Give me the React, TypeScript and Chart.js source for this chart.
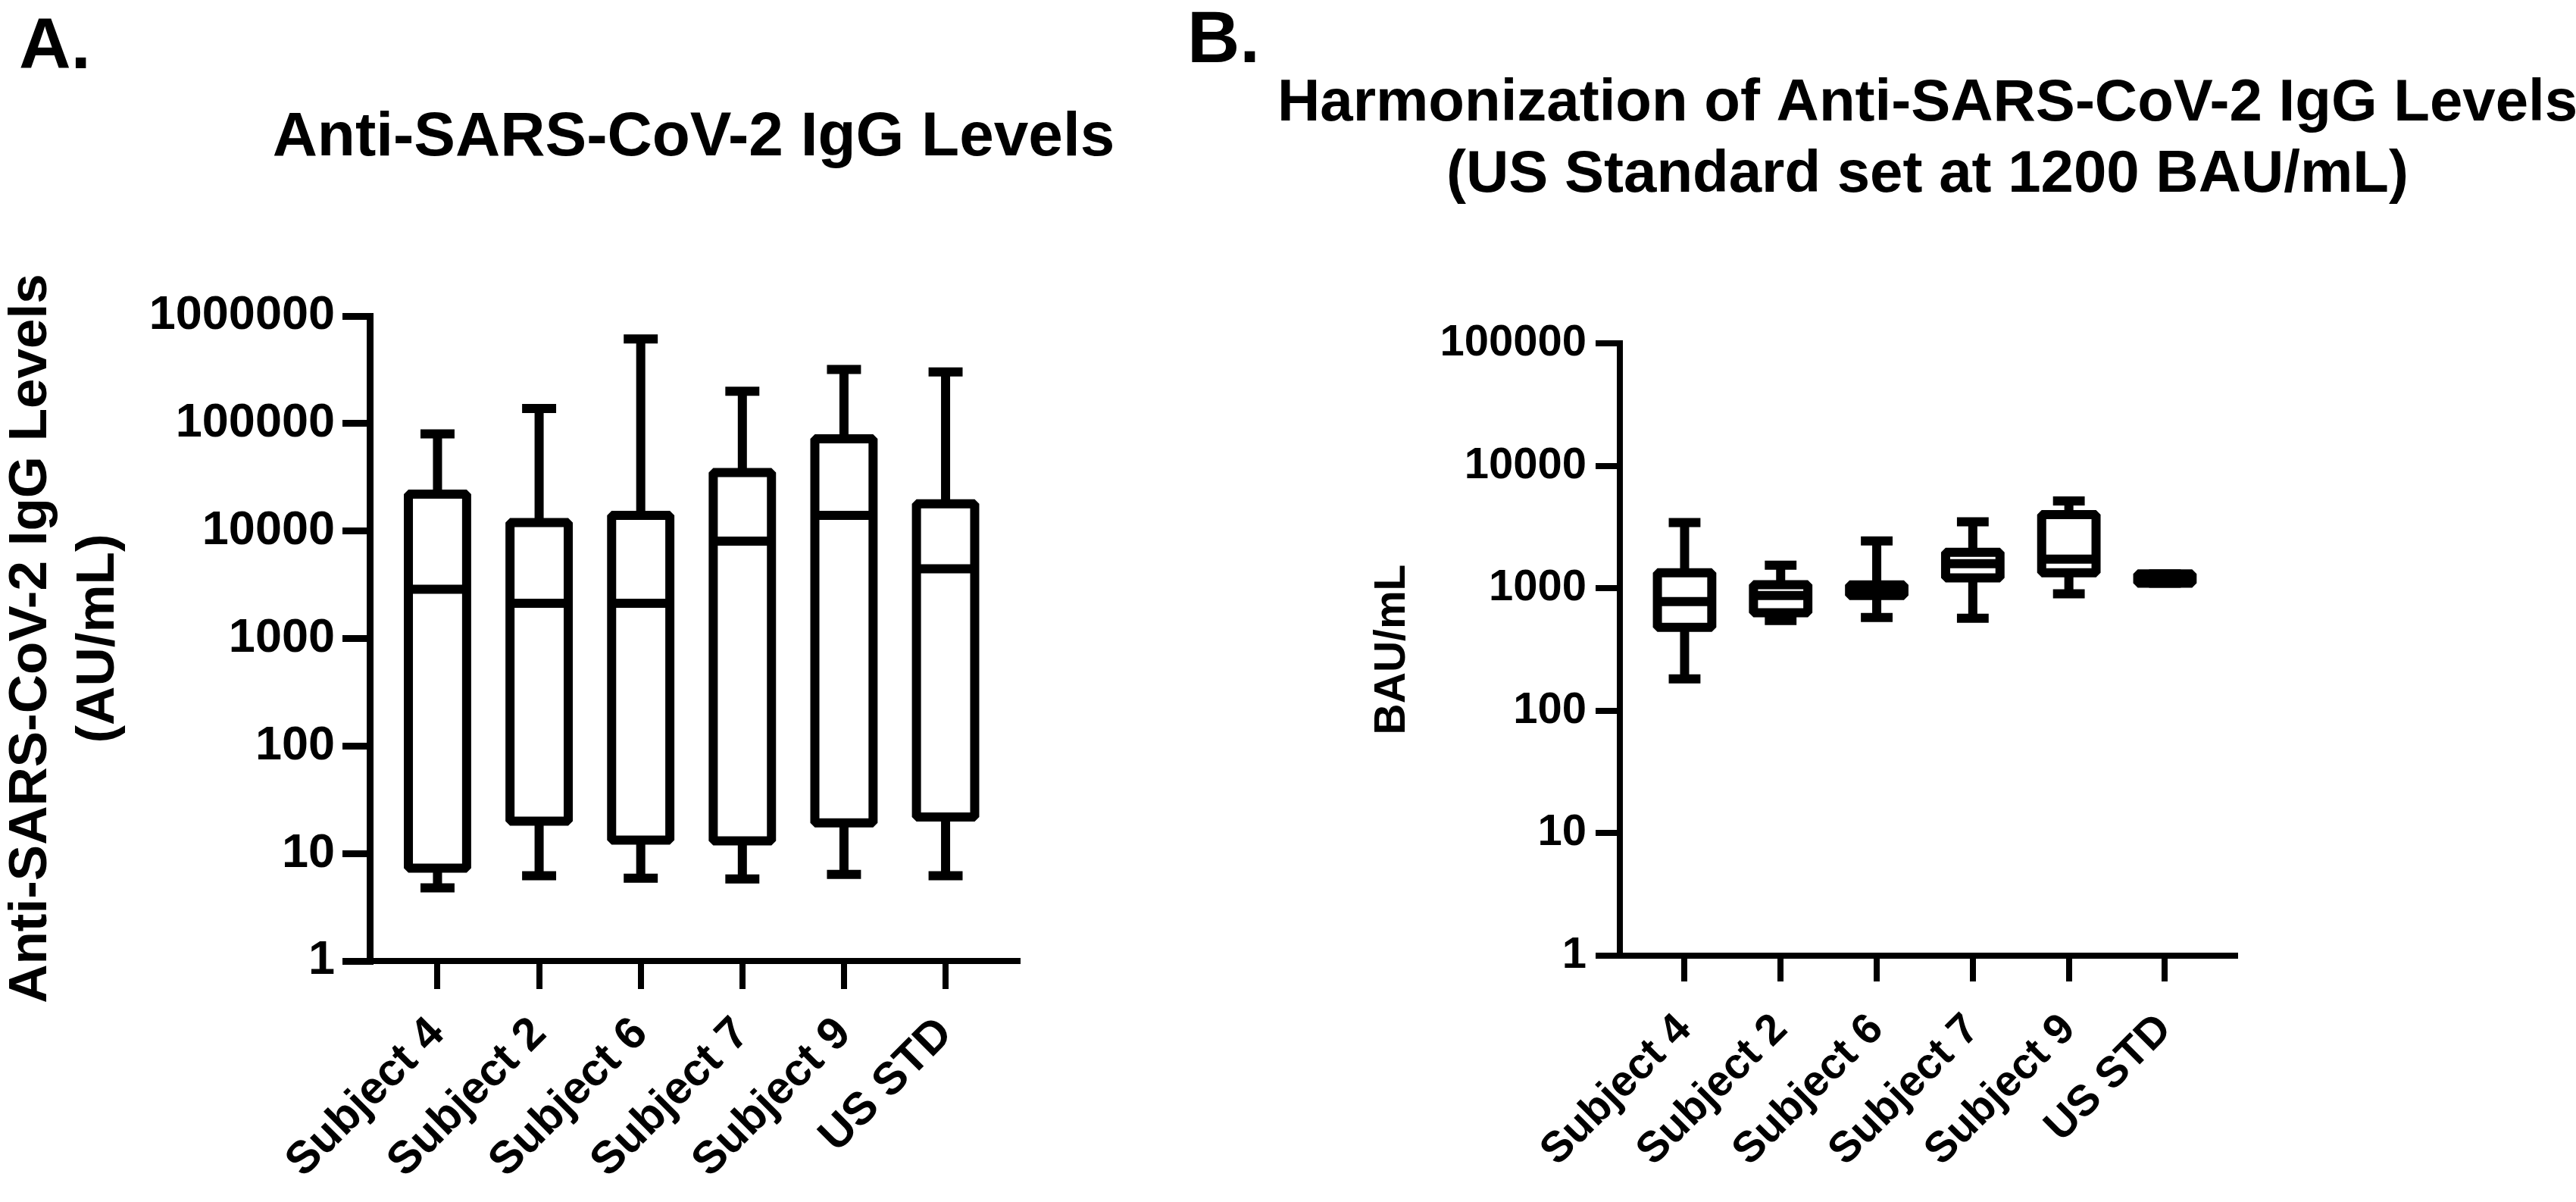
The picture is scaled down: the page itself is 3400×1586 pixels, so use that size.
import React, { useEffect, useRef } from 'react';
import { Chart, registerables } from 'chart.js';

Chart.register(...registerables);

const FONT = "'Liberation Sans', Arial, Helvetica, sans-serif";

// ---------- Panel A data (AU/mL) ----------
const categoriesA = ['Subject 4', 'Subject 2', 'Subject 6', 'Subject 7', 'Subject 9', 'US STD'];
const minA = [4.8, 6.2, 5.9, 5.8, 6.4, 6.2];
const q1A = [7.3, 20, 13.3, 13.1, 19.3, 21.9];
const medianA = [2870, 2130, 2130, 8070, 14000, 4450];
const q3A = [22000, 12000, 14000, 35000, 72000, 17900];
const maxA = [80000, 138000, 613000, 200000, 319000, 302000];
const yTicksA = [1, 10, 100, 1000, 10000, 100000, 1000000];
const yTickLabelsA = ['1', '10', '100', '1000', '10000', '100000', '1000000'];

// ---------- Panel B data (BAU/mL) ----------
const categoriesB = ['Subject 4', 'Subject 2', 'Subject 6', 'Subject 7', 'Subject 9', 'US STD'];
const minB = [182, 546, 578, 569, 901, 1100];
const q1B = [480, 631, 873, 1216, 1340, 1100];
const medianB = [780, 873, 966, 1589, 1731, 1200];
const q3B = [1340, 1070, 1067, 1968, 3988, 1310];
const maxB = [3434, 1545, 2438, 3483, 5166, 1310];
const yTicksB = [1, 10, 100, 1000, 10000, 100000];
const yTickLabelsB = ['1', '10', '100', '1000', '10000', '100000'];

const titleA = ['Anti-SARS-CoV-2 IgG Levels'];
const titleB = ['Harmonization of Anti-SARS-CoV-2 IgG Levels', '(US Standard set at 1200 BAU/mL)'];
const yTitleA = ['Anti-SARS-CoV-2 IgG Levels', '(AU/mL)'];
const yTitleB = ['BAU/mL'];

// Box-and-whisker drawing through the chart's own scales
const boxWhiskerPlugin = {
  id: 'boxWhisker',
  afterDatasetsDraw(chart: any, _args: any, o: any) {
    const { ctx } = chart;
    const xs = chart.scales.x;
    const ys = chart.scales.y;
    const step = xs.getPixelForValue(1) - xs.getPixelForValue(0);
    const half = (step * o.boxRatio) / 2;
    const capHalf = (step * o.capRatio) / 2;
    ctx.save();
    ctx.strokeStyle = '#000';
    ctx.lineWidth = o.lineWidth;
    ctx.lineCap = 'butt';
    o.min.forEach((_: number, i: number) => {
      const cx = xs.getPixelForValue(i);
      const pMin = ys.getPixelForValue(o.min[i]);
      const pQ1 = ys.getPixelForValue(o.q1[i]);
      const pMed = ys.getPixelForValue(o.median[i]);
      const pQ3 = ys.getPixelForValue(o.q3[i]);
      const pMax = ys.getPixelForValue(o.max[i]);
      ctx.lineJoin = 'miter';
      ctx.beginPath();
      ctx.moveTo(cx, pQ3);
      ctx.lineTo(cx, pMax);
      ctx.moveTo(cx, pQ1);
      ctx.lineTo(cx, pMin);
      ctx.moveTo(cx - capHalf, pMax);
      ctx.lineTo(cx + capHalf, pMax);
      ctx.moveTo(cx - capHalf, pMin);
      ctx.lineTo(cx + capHalf, pMin);
      ctx.stroke();
      ctx.lineJoin = 'bevel';
      ctx.fillStyle = '#fff';
      ctx.beginPath();
      ctx.rect(cx - half, pQ3, 2 * half, pQ1 - pQ3);
      ctx.fill();
      ctx.stroke();
      ctx.beginPath();
      ctx.moveTo(cx - half, pMed);
      ctx.lineTo(cx + half, pMed);
      ctx.stroke();
    });
    ctx.restore();
  },
};

// Panel title (centred over the plot area) and rotated y-axis title
const textPlugin = {
  id: 'panelText',
  afterDraw(chart: any, _args: any, o: any) {
    const { ctx, chartArea } = chart;
    const cx = (chartArea.left + chartArea.right) / 2;
    const cy = (chartArea.top + chartArea.bottom) / 2;
    ctx.save();
    ctx.fillStyle = '#000';
    ctx.textAlign = 'center';
    ctx.textBaseline = 'alphabetic';
    ctx.font = `bold ${o.titleSize}px ${FONT}`;
    o.title.forEach((line: string, i: number) => {
      ctx.fillText(line, cx, o.titleBaseline + i * o.titleGap);
    });
    ctx.font = `bold ${o.yTitleSize}px ${FONT}`;
    o.yTitle.forEach((line: string, i: number) => {
      ctx.save();
      ctx.translate(o.yTitleBaseline + i * o.yTitleGap, cy);
      ctx.rotate(-Math.PI / 2);
      ctx.fillText(line, 0, 0);
      ctx.restore();
    });
    ctx.restore();
  },
};

function makeConfig(p: any) {
  return {
    type: 'scatter',
    data: { datasets: [] },
    plugins: [boxWhiskerPlugin, textPlugin],
    options: {
      responsive: false,
      maintainAspectRatio: false,
      animation: false,
      events: [],
      layout: { padding: { left: 0, top: p.padTop, bottom: 0, right: p.padRight } },
      scales: {
        x: {
          type: 'linear',
          min: p.xMin,
          max: p.xMax,
          bounds: 'data',
          offset: false,
          afterBuildTicks: (s: any) => {
            s.ticks = p.categories.map((_: string, i: number) => ({ value: i }));
          },
          afterFit: (s: any) => {
            s.height = p.xAxisHeight;
          },
          ticks: {
            autoSkip: false,
            minRotation: 45,
            maxRotation: 45,
            padding: p.xTickPad,
            color: '#000',
            font: { family: FONT, size: p.xFont, weight: 'bold' },
            callback: (v: number) => p.categories[v] ?? '',
          },
          grid: {
            display: true,
            offset: false,
            drawOnChartArea: false,
            drawTicks: true,
            tickLength: p.xTickLen,
            lineWidth: p.xAxisW,
            tickWidth: p.xAxisW,
            color: '#000',
            tickColor: '#000',
          },
          border: { display: true, width: p.xAxisW, color: '#000' },
        },
        y: {
          type: 'logarithmic',
          min: 1,
          max: p.yTicks[p.yTicks.length - 1],
          afterBuildTicks: (s: any) => {
            s.ticks = p.yTicks.map((v: number) => ({ value: v }));
          },
          afterFit: (s: any) => {
            s.width = p.yAxisWidth;
          },
          ticks: {
            padding: p.yTickPad,
            color: '#000',
            font: { family: FONT, size: p.yFont, weight: 'bold' },
            callback: (v: number) => {
              const k = p.yTicks.indexOf(v);
              return k >= 0 ? p.yTickLabels[k] : '';
            },
          },
          grid: {
            display: true,
            offset: false,
            drawOnChartArea: false,
            drawTicks: true,
            tickLength: p.yTickLen,
            lineWidth: p.yAxisW,
            tickWidth: p.yAxisW,
            color: '#000',
            tickColor: '#000',
          },
          border: { display: true, width: p.yAxisW, color: '#000' },
        },
      },
      plugins: {
        legend: { display: false },
        tooltip: { enabled: false },
        title: { display: false },
        boxWhisker: {
          min: p.min,
          q1: p.q1,
          median: p.median,
          q3: p.q3,
          max: p.max,
          boxRatio: p.boxRatio,
          capRatio: p.capRatio,
          lineWidth: 12,
        },
        panelText: {
          title: p.title,
          titleSize: p.titleSize,
          titleBaseline: p.titleBaseline,
          titleGap: p.titleGap,
          yTitle: p.yTitle,
          yTitleSize: p.yTitleSize,
          yTitleBaseline: p.yTitleBaseline,
          yTitleGap: p.yTitleGap,
        },
      },
    },
  };
}

function Panel({ params, left, width, height }: any) {
  const ref = useRef<HTMLCanvasElement>(null);
  useEffect(() => {
    const chart = new Chart(ref.current as HTMLCanvasElement, makeConfig(params) as any);
    return () => chart.destroy();
  }, []);
  return (
    <canvas
      ref={ref}
      width={width}
      height={height}
      style={{ position: 'absolute', left, top: 0, width, height }}
    />
  );
}

const paramsA = {
  categories: categoriesA,
  min: minA,
  q1: q1A,
  median: medianA,
  q3: q3A,
  max: maxA,
  yTicks: yTicksA,
  yTickLabels: yTickLabelsA,
  title: titleA,
  titleSize: 82,
  titleBaseline: 205,
  titleGap: 0,
  yTitle: yTitleA,
  yTitleSize: 71,
  yTitleBaseline: 61,
  yTitleGap: 89,
  padTop: 417,
  xMin: -0.667,
  xMax: 5.708,
  padRight: 1600 - 1343,
  xAxisHeight: 318,
  yAxisWidth: 488,
  xTickPad: 24,
  xTickLen: 37,
  xFont: 60,
  yTickPad: 10,
  yTickLen: 36,
  yFont: 63,
  xAxisW: 8,
  yAxisW: 9,
  boxRatio: 0.573,
  capRatio: 0.335,
};

const paramsB = {
  categories: categoriesB,
  min: minB,
  q1: q1B,
  median: medianB,
  q3: q3B,
  max: maxB,
  yTicks: yTicksB,
  yTickLabels: yTickLabelsB,
  title: titleB,
  titleSize: 78,
  titleBaseline: 159,
  titleGap: 94,
  yTitle: yTitleB,
  yTitleSize: 57,
  yTitleBaseline: 1854 - 1600,
  yTitleGap: 0,
  padTop: 453,
  xMin: -0.674,
  xMax: 5.73,
  padRight: 3400 - 2950,
  xAxisHeight: 325,
  yAxisWidth: 2138 - 1600,
  xTickPad: 30,
  xTickLen: 34,
  xFont: 57,
  yTickPad: 12,
  yTickLen: 32,
  yFont: 58,
  xAxisW: 8,
  yAxisW: 8,
  boxRatio: 0.566,
  capRatio: 0.33,
};

export default function App() {
  return (
    <div
      style={{
        position: 'fixed',
        left: 0,
        top: 0,
        width: 3400,
        height: 1586,
        background: '#fff',
        overflow: 'hidden',
      }}
    >
      <Panel params={paramsA} left={0} width={1600} height={1586} />
      <Panel params={paramsB} left={1600} width={1800} height={1586} />
      <div
        style={{
          position: 'absolute',
          left: 25,
          top: 10,
          font: `bold 95px/95px ${FONT}`,
          color: '#000',
        }}
      >
        A.
      </div>
      <div
        style={{
          position: 'absolute',
          left: 1567,
          top: 1,
          font: `bold 96px/96px ${FONT}`,
          color: '#000',
        }}
      >
        B.
      </div>
    </div>
  );
}
